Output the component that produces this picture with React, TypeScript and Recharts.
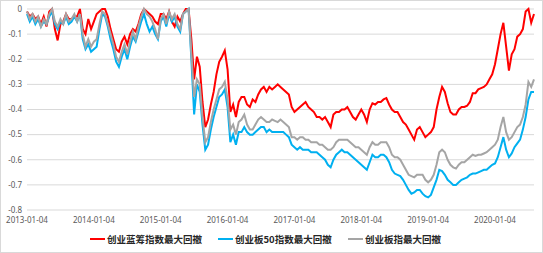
import { LineChart, Line, XAxis, YAxis, CartesianGrid } from "recharts";

// half-monthly samples
const DATES = [
  "2013-01-04","2013-01-19","2013-02-04","2013-02-19","2013-03-04","2013-03-19","2013-04-04","2013-04-19","2013-05-04","2013-05-19","2013-06-04","2013-06-19",
  "2013-07-04","2013-07-19","2013-08-04","2013-08-19","2013-09-04","2013-09-19","2013-10-04","2013-10-19","2013-11-04","2013-11-19","2013-12-04","2013-12-19",
  "2014-01-04","2014-01-19","2014-02-04","2014-02-19","2014-03-04","2014-03-19","2014-04-04","2014-04-19","2014-05-04","2014-05-19","2014-06-04","2014-06-19",
  "2014-07-04","2014-07-19","2014-08-04","2014-08-19","2014-09-04","2014-09-19","2014-10-04","2014-10-19","2014-11-04","2014-11-19","2014-12-04","2014-12-19",
  "2015-01-04","2015-01-19","2015-02-04","2015-02-19","2015-03-04","2015-03-19","2015-04-04","2015-04-19","2015-05-04","2015-05-19","2015-06-04","2015-06-19",
  "2015-07-04","2015-07-19","2015-08-04","2015-08-19","2015-09-04","2015-09-19","2015-10-04","2015-10-19","2015-11-04","2015-11-19","2015-12-04","2015-12-19",
  "2016-01-04","2016-01-19","2016-02-04","2016-02-19","2016-03-04","2016-03-19","2016-04-04","2016-04-19","2016-05-04","2016-05-19","2016-06-04","2016-06-19",
  "2016-07-04","2016-07-19","2016-08-04","2016-08-19","2016-09-04","2016-09-19","2016-10-04","2016-10-19","2016-11-04","2016-11-19","2016-12-04","2016-12-19",
  "2017-01-04","2017-01-19","2017-02-04","2017-02-19","2017-03-04","2017-03-19","2017-04-04","2017-04-19","2017-05-04","2017-05-19","2017-06-04","2017-06-19",
  "2017-07-04","2017-07-19","2017-08-04","2017-08-19","2017-09-04","2017-09-19","2017-10-04","2017-10-19","2017-11-04","2017-11-19","2017-12-04","2017-12-19",
  "2018-01-04","2018-01-19","2018-02-04","2018-02-19","2018-03-04","2018-03-19","2018-04-04","2018-04-19","2018-05-04","2018-05-19","2018-06-04","2018-06-19",
  "2018-07-04","2018-07-19","2018-08-04","2018-08-19","2018-09-04","2018-09-19","2018-10-04","2018-10-19","2018-11-04","2018-11-19","2018-12-04","2018-12-19",
  "2019-01-04","2019-01-19","2019-02-04","2019-02-19","2019-03-04","2019-03-19","2019-04-04","2019-04-19","2019-05-04","2019-05-19","2019-06-04","2019-06-19",
  "2019-07-04","2019-07-19","2019-08-04","2019-08-19","2019-09-04","2019-09-19","2019-10-04","2019-10-19","2019-11-04","2019-11-19","2019-12-04","2019-12-19",
  "2020-01-04","2020-01-19","2020-02-04","2020-02-19","2020-03-04","2020-03-19","2020-04-04","2020-04-19","2020-05-04","2020-05-19","2020-06-04","2020-06-19",
  "2020-07-04","2020-07-19","2020-08-04",
];

// 创业蓝筹指数最大回撤
const LANCHOU = [
  -0.01,-0.03,-0.02,-0.04,-0.03,-0.06,-0.03,-0.07,-0.01,0,-0.08,-0.125,-0.06,-0.05,-0.02,-0.04,-0.04,-0.03,-0.03,0,-0.08,-0.1,-0.04,-0.08,
  -0.05,-0.02,-0.01,0,0,-0.03,-0.08,-0.12,-0.16,-0.17,-0.13,-0.11,-0.14,-0.1,-0.08,-0.09,-0.06,-0.02,0,-0.01,-0.02,-0.03,-0.05,-0.06,
  -0.02,-0.02,-0.04,-0.01,-0.05,-0.07,-0.03,-0.05,-0.02,0,0,-0.12,-0.28,-0.19,-0.23,-0.37,-0.47,-0.44,-0.38,-0.33,-0.26,-0.21,-0.19,-0.165,
  -0.24,-0.41,-0.38,-0.43,-0.37,-0.35,-0.35,-0.38,-0.39,-0.36,-0.37,-0.34,-0.32,-0.31,-0.33,-0.31,-0.32,-0.31,-0.3,-0.31,-0.32,-0.33,-0.34,-0.39,
  -0.41,-0.4,-0.39,-0.38,-0.37,-0.39,-0.4,-0.41,-0.43,-0.43,-0.44,-0.43,-0.45,-0.47,-0.42,-0.41,-0.41,-0.4,-0.4,-0.39,-0.41,-0.43,-0.44,-0.42,
  -0.4,-0.42,-0.45,-0.4,-0.375,-0.38,-0.37,-0.37,-0.36,-0.355,-0.38,-0.4,-0.41,-0.41,-0.43,-0.45,-0.46,-0.48,-0.5,-0.52,-0.48,-0.47,-0.49,-0.51,
  -0.5,-0.49,-0.47,-0.4,-0.35,-0.31,-0.33,-0.375,-0.41,-0.42,-0.42,-0.4,-0.39,-0.39,-0.385,-0.37,-0.335,-0.335,-0.32,-0.315,-0.31,-0.3,-0.28,-0.26,
  -0.22,-0.16,-0.1,-0.055,-0.15,-0.245,-0.18,-0.16,-0.11,-0.1,-0.08,-0.01,0,-0.055,-0.02,
];

// 创业板50指数最大回撤
const CYB50 = [
  -0.02,-0.05,-0.03,-0.06,-0.04,-0.07,-0.05,-0.06,-0.03,-0.01,-0.06,-0.08,-0.05,-0.06,-0.03,-0.06,-0.05,-0.03,-0.05,-0.02,-0.12,-0.16,-0.14,-0.17,
  -0.16,-0.15,-0.08,-0.02,-0.03,-0.07,-0.12,-0.16,-0.21,-0.23,-0.19,-0.16,-0.2,-0.15,-0.11,-0.13,-0.09,-0.05,-0.02,-0.06,-0.09,-0.07,-0.1,-0.12,
  -0.05,-0.03,-0.07,-0.02,-0.05,-0.03,-0.07,-0.09,-0.02,-0.01,0,-0.2,-0.42,-0.3,-0.33,-0.46,-0.56,-0.54,-0.48,-0.43,-0.39,-0.35,-0.34,-0.32,
  -0.39,-0.53,-0.5,-0.54,-0.49,-0.49,-0.47,-0.49,-0.5,-0.5,-0.49,-0.48,-0.47,-0.47,-0.49,-0.48,-0.49,-0.49,-0.49,-0.49,-0.49,-0.5,-0.51,-0.54,
  -0.55,-0.56,-0.55,-0.56,-0.56,-0.56,-0.57,-0.57,-0.57,-0.58,-0.59,-0.6,-0.62,-0.63,-0.6,-0.58,-0.57,-0.56,-0.57,-0.57,-0.58,-0.59,-0.6,-0.61,
  -0.62,-0.63,-0.64,-0.61,-0.58,-0.59,-0.59,-0.58,-0.58,-0.59,-0.61,-0.64,-0.655,-0.66,-0.665,-0.68,-0.7,-0.72,-0.735,-0.73,-0.72,-0.72,-0.735,-0.745,
  -0.75,-0.74,-0.71,-0.68,-0.64,-0.645,-0.66,-0.68,-0.69,-0.7,-0.7,-0.69,-0.68,-0.675,-0.67,-0.66,-0.655,-0.655,-0.65,-0.645,-0.64,-0.64,-0.63,-0.62,
  -0.615,-0.59,-0.55,-0.51,-0.56,-0.59,-0.575,-0.55,-0.535,-0.52,-0.48,-0.43,-0.36,-0.33,-0.33,
];

// 创业板指最大回撤
const CYB = [
  -0.01,-0.04,-0.02,-0.05,-0.03,-0.07,-0.04,-0.06,-0.02,0,-0.05,-0.07,-0.04,-0.06,-0.02,-0.05,-0.04,-0.02,-0.05,-0.02,-0.1,-0.15,-0.12,-0.15,
  -0.13,-0.12,-0.06,-0.01,-0.02,-0.06,-0.1,-0.14,-0.19,-0.21,-0.17,-0.14,-0.18,-0.13,-0.09,-0.12,-0.07,-0.03,0,-0.02,-0.03,-0.05,-0.08,-0.12,
  -0.04,-0.02,-0.06,-0.01,-0.04,-0.02,-0.06,-0.08,-0.02,-0.01,0,-0.18,-0.35,-0.28,-0.3,-0.43,-0.53,-0.51,-0.45,-0.4,-0.36,-0.32,-0.31,-0.29,
  -0.36,-0.48,-0.46,-0.5,-0.45,-0.44,-0.42,-0.46,-0.48,-0.48,-0.46,-0.44,-0.43,-0.44,-0.45,-0.45,-0.44,-0.445,-0.45,-0.44,-0.45,-0.46,-0.47,-0.51,
  -0.51,-0.52,-0.51,-0.51,-0.52,-0.52,-0.53,-0.53,-0.53,-0.54,-0.54,-0.55,-0.56,-0.56,-0.55,-0.53,-0.52,-0.52,-0.52,-0.52,-0.53,-0.54,-0.55,-0.55,
  -0.56,-0.57,-0.58,-0.55,-0.53,-0.54,-0.54,-0.53,-0.53,-0.53,-0.55,-0.58,-0.59,-0.59,-0.6,-0.62,-0.64,-0.66,-0.665,-0.67,-0.66,-0.66,-0.66,-0.68,
  -0.69,-0.68,-0.66,-0.62,-0.57,-0.56,-0.57,-0.6,-0.62,-0.63,-0.635,-0.62,-0.61,-0.61,-0.6,-0.59,-0.58,-0.585,-0.58,-0.58,-0.575,-0.57,-0.56,-0.55,
  -0.54,-0.52,-0.47,-0.43,-0.49,-0.52,-0.51,-0.49,-0.47,-0.46,-0.43,-0.38,-0.29,-0.31,-0.28,
];

const X_TICK_LABELS = [
  "2013-01-04", "2014-01-04", "2015-01-04", "2016-01-04",
  "2017-01-04", "2018-01-04", "2019-01-04", "2020-01-04",
];
const Y_TICKS = [0, -0.1, -0.2, -0.3, -0.4, -0.5, -0.6, -0.7, -0.8];

const SERIES = [
  { key: "lanchou", name: "创业蓝筹指数最大回撤", color: "#ff0000", legendX: 90 },
  { key: "cyb50", name: "创业板50指数最大回撤", color: "#00b0f0", legendX: 218 },
  { key: "cyb", name: "创业板指最大回撤", color: "#a5a5a5", legendX: 348 },
];

const data = DATES.map((d, i) => ({
  i,
  date: d,
  lanchou: LANCHOU[i],
  cyb50: CYB50[i],
  cyb: CYB[i],
}));
const xTicks = X_TICK_LABELS.map((l) => DATES.indexOf(l));

const tickStyle = { fontSize: 8, fill: "#595959", fontFamily: "'Noto Sans', sans-serif" };

export default function App() {
  return (
    <div style={{
      position: "fixed",
      left: 0,
      top: 0,
      width: 543,
      height: 253,
      background: "#fff",
      fontFamily: "'Noto Sans CJK SC', 'Noto Sans', sans-serif",
    }}>
      <LineChart width={543} height={253} data={data} margin={{ top: 9, right: 9, left: 0, bottom: 27 }}>
        <CartesianGrid vertical={false} stroke="#d9d9d9" strokeWidth={1} />
        <XAxis
          dataKey="i"
          type="number"
          domain={[0, DATES.length - 1]}
          ticks={xTicks}
          interval={0}
          tickFormatter={(v) => DATES[v]}
          axisLine={false}
          tickLine={false}
          tickSize={3}
          tickMargin={4}
          height={16}
          tick={tickStyle}
        />
        <YAxis
          type="number"
          domain={[-0.8, 0]}
          ticks={Y_TICKS}
          interval={0}
          axisLine={false}
          tickLine={false}
          tickSize={3}
          tickMargin={2}
          width={27}
          tick={tickStyle}
        />
        {SERIES.map((s) => (
          <Line
            key={s.key}
            dataKey={s.key}
            name={s.name}
            stroke={s.color}
            strokeWidth={2}
            dot={false}
            type="linear"
            isAnimationActive={false}
          />
        ))}
      </LineChart>
      {SERIES.map((s) => (
        <div key={s.key} style={{
          position: "absolute",
          left: s.legendX,
          top: 232,
          height: 14,
          display: "flex",
          alignItems: "center",
          whiteSpace: "nowrap",
        }}>
          <span style={{ display: "inline-block", width: 15, height: 2, background: s.color, marginRight: 2 }} />
          <span style={{ fontSize: 9.5, fontWeight: 700, color: "#262626", lineHeight: "14px" }}>{s.name}</span>
        </div>
      ))}
      <div style={{
        position: "absolute",
        inset: 0,
        border: "1px solid #d9d9d9",
        boxSizing: "border-box",
        pointerEvents: "none",
      }} />
    </div>
  );
}
